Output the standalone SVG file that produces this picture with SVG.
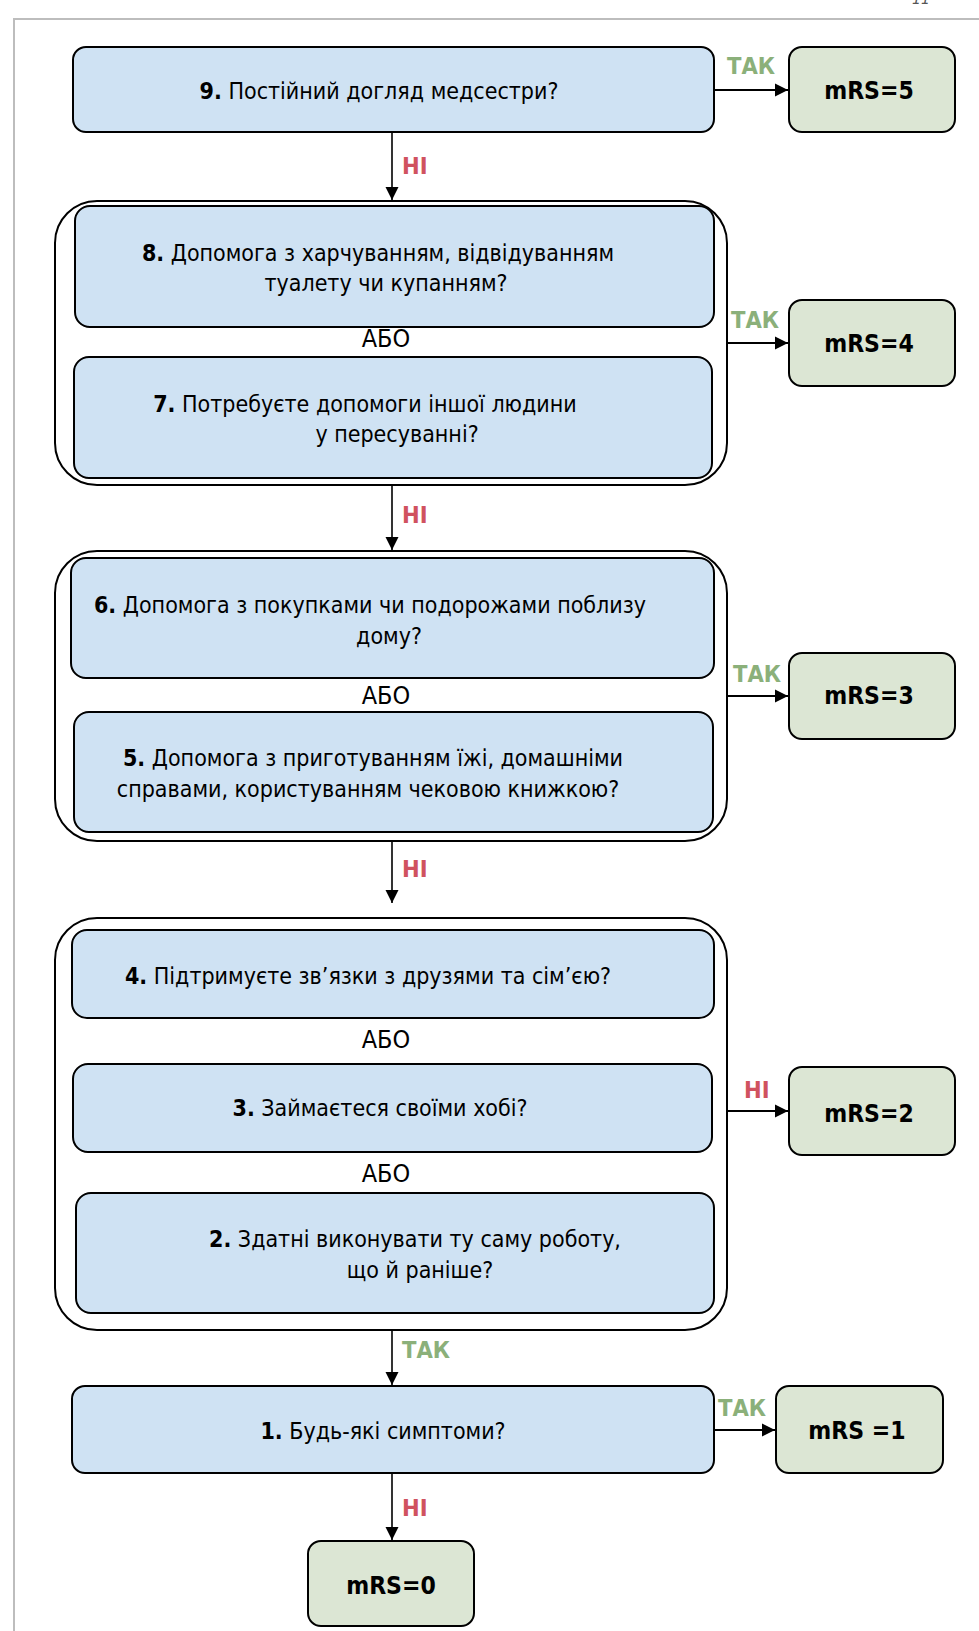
<svg xmlns="http://www.w3.org/2000/svg" width="979" height="1631" viewBox="0 0 979 1631">
<style>
.q{fill:#cfe2f3;stroke:#000;stroke-width:2}
.r{fill:#dce6d4;stroke:#000;stroke-width:2}
.g{fill:none;stroke:#000;stroke-width:2}
.t{font-family:"DejaVu Sans Condensed","DejaVu Sans",sans-serif;font-size:23px;fill:#000;text-anchor:middle}
.or{font-size:25px}
.b{font-weight:bold}
.m{font-family:"DejaVu Sans Condensed","DejaVu Sans",sans-serif;font-size:24.5px;font-weight:bold;fill:#000;text-anchor:middle}
.yes{font-family:"DejaVu Sans Condensed","DejaVu Sans",sans-serif;font-size:23.5px;font-weight:bold;fill:#8bb07a}
.no{font-family:"DejaVu Sans Condensed","DejaVu Sans",sans-serif;font-size:23.5px;font-weight:bold;fill:#d0525f}
.c{fill:none;stroke:#000;stroke-width:1.6}
.ch{fill:none;stroke:#000;stroke-width:2}
</style>
<defs>
<marker id="ah" markerUnits="userSpaceOnUse" markerWidth="14" markerHeight="14" viewBox="0 0 14 14" refX="13" refY="7" orient="auto">
<path d="M0,0.5 L13,7 L0,13.5 Z" fill="#000"/>
</marker>
</defs>
<g id="page">
<path d="M14,1631 V19 H979" fill="none" stroke="#bdbdbd" stroke-width="2"/>
<text x="912" y="4" font-family="DejaVu Sans" font-style="italic" font-size="14" fill="#555">11</text>
</g>
<g id="connectors">
<path class="ch" d="M714,90 H788" marker-end="url(#ah)"/>
<path class="c" d="M392,132 V200" marker-end="url(#ah)"/>
<path class="ch" d="M727,343 H788" marker-end="url(#ah)"/>
<path class="c" d="M392,485 V550" marker-end="url(#ah)"/>
<path class="ch" d="M727,696 H788" marker-end="url(#ah)"/>
<path class="c" d="M392,841 V903" marker-end="url(#ah)"/>
<path class="ch" d="M727,1111 H788" marker-end="url(#ah)"/>
<path class="c" d="M392,1330 V1385" marker-end="url(#ah)"/>
<path class="ch" d="M714,1430 H775" marker-end="url(#ah)"/>
<path class="c" d="M392,1473 V1540" marker-end="url(#ah)"/>
<text class="yes" x="727" y="74">ТАК</text>
<text class="no" x="402" y="174">НІ</text>
<text class="yes" x="731" y="328">ТАК</text>
<text class="no" x="402" y="523">НІ</text>
<text class="yes" x="733" y="682">ТАК</text>
<text class="no" x="402" y="877">НІ</text>
<text class="no" x="744" y="1098">НІ</text>
<text class="yes" x="402" y="1358">ТАК</text>
<text class="yes" x="718" y="1416">ТАК</text>
<text class="no" x="402" y="1516">НІ</text>
</g>
<g id="q9">
<rect class="q" x="73" y="47" width="641" height="85" rx="13"/>
<text class="t" x="379" y="99"><tspan class="b">9.</tspan> Постійний догляд медсестри?</text>
</g>
<g id="mrs5">
<rect class="r" x="789" y="47" width="166" height="85" rx="13"/>
<text class="m" x="869" y="99">mRS=5</text>
</g>
<g id="group87">
<rect class="g" x="55" y="201" width="672" height="284" rx="42"/>
</g>
<g id="q8">
<rect class="q" x="75" y="206" width="639" height="121" rx="15"/>
<text class="t" x="378" y="261"><tspan class="b">8.</tspan> Допомога з харчуванням, відвідуванням</text>
<text class="t" x="386" y="291">туалету чи купанням?</text>
</g>
<text class="t or" x="386" y="347">АБО</text>
<g id="q7">
<rect class="q" x="74" y="357" width="638" height="121" rx="15"/>
<text class="t" x="365" y="412"><tspan class="b">7.</tspan> Потребуєте допомоги іншої людини</text>
<text class="t" x="397" y="442">у пересуванні?</text>
</g>
<g id="mrs4">
<rect class="r" x="789" y="300" width="166" height="86" rx="13"/>
<text class="m" x="869" y="352">mRS=4</text>
</g>
<g id="group65">
<rect class="g" x="55" y="551" width="672" height="290" rx="42"/>
</g>
<g id="q6">
<rect class="q" x="71" y="558" width="643" height="120" rx="15"/>
<text class="t" x="370" y="613"><tspan class="b">6.</tspan> Допомога з покупками чи подорожами поблизу</text>
<text class="t" x="389" y="644">дому?</text>
</g>
<text class="t or" x="386" y="704">АБО</text>
<g id="q5">
<rect class="q" x="74" y="712" width="639" height="120" rx="15"/>
<text class="t" x="373" y="766"><tspan class="b">5.</tspan> Допомога з приготуванням їжі, домашніми</text>
<text class="t" x="368" y="797">справами, користуванням чековою книжкою?</text>
</g>
<g id="mrs3">
<rect class="r" x="789" y="653" width="166" height="86" rx="13"/>
<text class="m" x="869" y="704">mRS=3</text>
</g>
<g id="group432">
<rect class="g" x="55" y="918" width="672" height="412" rx="42"/>
</g>
<g id="q4">
<rect class="q" x="72" y="930" width="642" height="88" rx="15"/>
<text class="t" x="368" y="984"><tspan class="b">4.</tspan> Підтримуєте зв’язки з друзями та сім’єю?</text>
</g>
<text class="t or" x="386" y="1048">АБО</text>
<g id="q3">
<rect class="q" x="73" y="1064" width="639" height="88" rx="15"/>
<text class="t" x="380" y="1116"><tspan class="b">3.</tspan> Займаєтеся своїми хобі?</text>
</g>
<text class="t or" x="386" y="1182">АБО</text>
<g id="q2">
<rect class="q" x="76" y="1193" width="638" height="120" rx="15"/>
<text class="t" x="415" y="1247"><tspan class="b">2.</tspan> Здатні виконувати ту саму роботу,</text>
<text class="t" x="420" y="1278">що й раніше?</text>
</g>
<g id="mrs2">
<rect class="r" x="789" y="1067" width="166" height="88" rx="13"/>
<text class="m" x="869" y="1122">mRS=2</text>
</g>
<g id="q1">
<rect class="q" x="72" y="1386" width="642" height="87" rx="13"/>
<text class="t" x="383" y="1439"><tspan class="b">1.</tspan> Будь-які симптоми?</text>
</g>
<g id="mrs1">
<rect class="r" x="776" y="1386" width="167" height="87" rx="13"/>
<text class="m" x="857" y="1439">mRS =1</text>
</g>
<g id="mrs0">
<rect class="r" x="308" y="1541" width="166" height="85" rx="13"/>
<text class="m" x="391" y="1594">mRS=0</text>
</g>
</svg>
